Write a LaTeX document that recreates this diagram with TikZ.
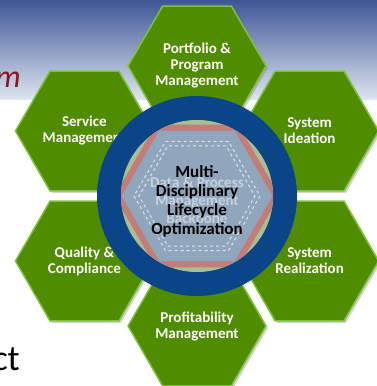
\documentclass[tikz,border=0pt]{standalone}
\usepackage{fontspec}
\setmainfont{Carlito}
\usetikzlibrary{shapes.geometric,shadows}
\definecolor{skytop}{RGB}{62,86,150}
\definecolor{skylow}{RGB}{222,230,241}
\definecolor{titlered}{RGB}{140,22,32}
\definecolor{hexgreen}{RGB}{80,140,0}
\definecolor{hexrim}{RGB}{128,192,62}
\definecolor{ringblue}{RGB}{10,70,135}
\definecolor{coreback}{RGB}{168,190,150}
\definecolor{corefill}{RGB}{143,166,188}
\definecolor{corered}{RGB}{196,124,120}

\begin{document}
\begin{tikzpicture}[x=1pt, y=1pt,
	hexa/.style={regular polygon, regular polygon sides=6, minimum size=138pt, inner sep=0pt,
		fill=hexgreen, draw=hexrim, line width=1.5pt, text=white, align=center,
		font=\bfseries\fontsize{15}{16}\selectfont,
		drop shadow={shadow xshift=2pt, shadow yshift=-2pt, opacity=0.35}},
	lane/.style={regular polygon, regular polygon sides=6, inner sep=0pt, draw=white,
		dashed, line width=1pt, opacity=0.7}]
	\useasboundingbox (0,0) rectangle (377,386);
	% slide backdrop
	\shade[top color=skytop, bottom color=skylow] (0,286) rectangle (377,386);
	\node[anchor=base east, inner sep=0pt, text=titlered, font=\itshape\fontsize{32}{32}\selectfont] (title) at (21,298) {rm};
	\node[anchor=base east, inner sep=0pt, font=\fontsize{36}{36}\selectfont] (bullet) at (20,16) {ct};
	\coordinate (hub) at (197,190);
	% six hexagons round the hub
	\foreach \name/\ang/\txt in {port/90/{Portfolio \&\\Program\\Management}, ideat/30/{System\\Ideation},
		realiz/-30/{System\\Realization}, profit/-90/{Profitability\\Management},
		quality/210/{Quality \&\\Compliance}, service/150/{Service\\Management}}
		\node[hexa] (\name) at ([shift={(\ang:130)}]hub) {\txt};
	% blue ring
	\draw[ringblue, line width=24pt] (hub) circle[radius=88];
	\fill[coreback] (hub) circle[radius=76];
	% core hexagon
	\begin{scope}
		\clip (hub) circle[radius=76];
		\node[regular polygon, regular polygon sides=6, minimum size=158pt, inner sep=0pt,
			fill=corefill, draw=corered, line width=6pt] (core) at (hub) {};
	\end{scope}
	\node[lane, minimum size=126pt] (laneout) at (hub) {};
	\node[lane, minimum size=116pt] (lanein) at (hub) {};
	% core labels
	\node[text=white, opacity=0.5, align=center, font=\bfseries\fontsize{15}{18}\selectfont] (backbone) at (197,186)
		{Data \& Process\\Management\\Backbone};
	\node[align=center, font=\bfseries\fontsize{17}{19}\selectfont] (optim) at (197,185)
		{Multi-\\Disciplinary\\Lifecycle\\Optimization};
\end{tikzpicture}
\end{document}
